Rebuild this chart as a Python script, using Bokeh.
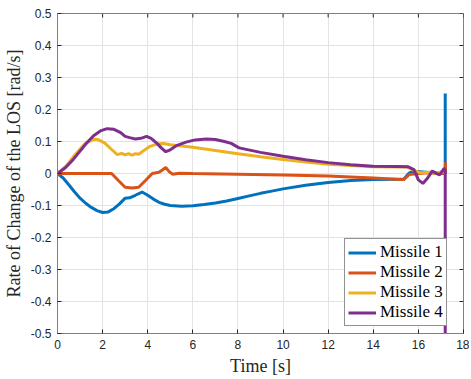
from bokeh.plotting import figure
from bokeh.models import (Range1d, FixedTicker, CustomJSTickFormatter, Legend, LegendItem)
from bokeh.embed import file_html
from bokeh.resources import INLINE

# ---- data ----
t1 = [0, 0.25, 0.5, 0.75, 1.0, 1.25, 1.5, 1.75, 2.0, 2.25, 2.5, 2.75, 3.0, 3.2, 3.45, 3.75,
      4.0, 4.25, 4.5, 4.75, 5.0, 5.5, 6.0, 6.5, 7.0, 7.5, 8.0, 8.5, 9.0, 9.5, 10, 11, 12, 13,
      14, 15, 15.35, 15.6, 15.8, 16.2, 16.6, 17.0, 17.19, 17.19]
m1 = [0, -0.014, -0.035, -0.057, -0.077, -0.093, -0.106, -0.116, -0.122, -0.12, -0.11, -0.095,
      -0.077, -0.076, -0.068, -0.058, -0.068, -0.08, -0.09, -0.096, -0.1, -0.102, -0.101,
      -0.097, -0.092, -0.086, -0.078, -0.07, -0.062, -0.055, -0.048, -0.037, -0.028, -0.022,
      -0.019, -0.018, -0.018, 0.002, 0.007, 0.005, 0.002, 0.0, 0.0, 0.25]

t2 = [0, 1, 2, 2.4, 2.7, 3.0, 3.3, 3.6, 3.9, 4.2, 4.5, 4.65, 4.8, 4.95, 5.1, 5.4, 6, 8, 10,
      12, 13, 14, 15, 15.35, 15.6, 16, 16.5, 17, 17.19, 17.2]
m2 = [0, 0, 0, 0, -0.022, -0.043, -0.045, -0.043, -0.022, 0.0, 0.004, 0.011, 0.019, 0.006,
      -0.002, 0.001, 0, -0.002, -0.005, -0.008, -0.011, -0.014, -0.018, -0.019, -0.003, 0,
      0.002, 0, 0, 0.035]

t3 = [0, 0.4, 0.8, 1.2, 1.6, 1.8, 2.1, 2.4, 2.65, 2.85, 3.0, 3.15, 3.3, 3.45, 3.6, 3.85, 4.1,
      4.4, 4.7, 5.0, 6.0, 7.0, 8.0, 9.0, 10, 11, 12, 13, 14, 15, 15.5, 15.8, 16.1, 16.5, 16.8,
      17.0, 17.19]
m3 = [0, 0.025, 0.06, 0.092, 0.107, 0.106, 0.095, 0.075, 0.059, 0.063, 0.058, 0.062, 0.057,
      0.062, 0.06, 0.073, 0.085, 0.092, 0.094, 0.09, 0.082, 0.072, 0.062, 0.052, 0.044, 0.036,
      0.029, 0.025, 0.021, 0.02, 0.02, 0.01, 0.002, 0.004, 0.0, 0.005, 0.003]

t4 = [0, 0.35, 0.7, 1.0, 1.3, 1.6, 1.9, 2.2, 2.5, 2.8, 3.0, 3.2, 3.45, 3.7, 3.95, 4.15, 4.4,
      4.6, 4.8, 5.0, 5.3, 5.7, 6.1, 6.6, 7.0, 7.4, 7.7, 8.05, 9, 10, 11, 12, 13, 14, 15, 15.55,
      15.8, 16.0, 16.2, 16.4, 16.62, 16.8, 16.95, 17.14, 17.19, 17.19]
m4 = [0, 0.018, 0.044, 0.07, 0.096, 0.118, 0.133, 0.14, 0.138, 0.128, 0.116, 0.112, 0.108,
      0.11, 0.116, 0.11, 0.095, 0.08, 0.068, 0.074, 0.088, 0.098, 0.105, 0.108, 0.106, 0.1,
      0.094, 0.08, 0.066, 0.054, 0.043, 0.034, 0.027, 0.023, 0.022, 0.021, 0.012, -0.02,
      -0.031, -0.015, 0.008, 0.0, -0.004, 0.016, 0.01, -0.55]

series_names = ["Missile 1", "Missile 2", "Missile 3", "Missile 4"]
colors = ["#0072BD", "#D95319", "#EDB120", "#7E2F8E"]
x_ticks = [0, 2, 4, 6, 8, 10, 12, 14, 16, 18]
y_ticks = [-0.5, -0.4, -0.3, -0.2, -0.1, 0, 0.1, 0.2, 0.3, 0.4, 0.5]

AX = "#262626"
BOX = "#808080"
SANS = "Liberation Sans"
SERIF = "Liberation Serif"

XMIN, XMAX, YMIN, YMAX = 0, 18, -0.5, 0.5
FW, FH = 406, 320

p = figure(frame_width=FW, frame_height=FH, output_backend="svg", toolbar_location=None,
           x_range=Range1d(XMIN, XMAX), y_range=Range1d(YMIN, YMAX),
           min_border_left=51, min_border_right=6, min_border_top=13, min_border_bottom=36,
           background_fill_color="white", border_fill_color="white")

p.outline_line_color = BOX
p.outline_line_width = 1

fmt = CustomJSTickFormatter(code="""
const v = Math.round(tick*10)/10;
return v === 0 ? "0" : v.toString();
""")

for ax in [p.xaxis[0], p.yaxis[0]]:
    ax.axis_line_color = BOX
    ax.major_tick_line_color = AX
    ax.major_tick_in = 4
    ax.major_tick_out = 0
    ax.minor_tick_line_color = None
    ax.major_label_text_font = SANS
    ax.major_label_text_font_size = "12px"
    ax.major_label_text_color = AX
    ax.axis_label_text_font = SERIF
    ax.axis_label_text_font_style = "normal"
    ax.axis_label_text_font_size = "18px"
    ax.axis_label_text_color = AX

p.xaxis[0].ticker = FixedTicker(ticks=x_ticks)
p.yaxis[0].ticker = FixedTicker(ticks=y_ticks)
p.yaxis[0].formatter = fmt
p.xaxis[0].axis_label = "Time [s]"
p.yaxis[0].axis_label = "Rate of Change of the LOS [rad/s]"
p.xaxis[0].major_label_standoff = 6
p.yaxis[0].major_label_standoff = 6
p.xaxis[0].axis_label_standoff = 4
p.yaxis[0].axis_label_standoff = 4

p.xgrid.ticker = FixedTicker(ticks=x_ticks)
p.ygrid.ticker = FixedTicker(ticks=y_ticks)
p.xgrid.grid_line_color = "#e3e3e3"
p.ygrid.grid_line_color = "#e3e3e3"

# mirrored inward ticks on the top and right edges of the box (4 px long)
ty = 4 * (YMAX - YMIN) / FH
tx = 4 * (XMAX - XMIN) / FW
p.segment(x0=x_ticks, y0=[YMAX] * len(x_ticks), x1=x_ticks, y1=[YMAX - ty] * len(x_ticks),
          line_color=AX, line_width=1)
p.segment(x0=[XMAX] * len(y_ticks), y0=y_ticks, x1=[XMAX - tx] * len(y_ticks), y1=y_ticks,
          line_color=AX, line_width=1)

items = []
for tt, vv, c, nm in zip([t1, t2, t3, t4], [m1, m2, m3, m4], colors, series_names):
    r = p.line(tt, vv, line_color=c, line_width=3)
    items.append(LegendItem(label=nm, renderers=[r]))

leg = Legend(items=items, location=(287, 7))
leg.label_text_font = SERIF
leg.label_text_font_size = "17px"
leg.label_text_color = "black"
leg.label_height = 19
leg.glyph_height = 19
leg.glyph_width = 28
leg.label_width = 62
leg.label_standoff = 4
leg.padding = 3
leg.spacing = 0
leg.margin = 0
leg.border_line_color = AX
leg.border_line_width = 1
leg.background_fill_color = "white"
leg.background_fill_alpha = 1
p.add_layout(leg, "center")

open("out.html", "w").write(file_html(p, INLINE))
